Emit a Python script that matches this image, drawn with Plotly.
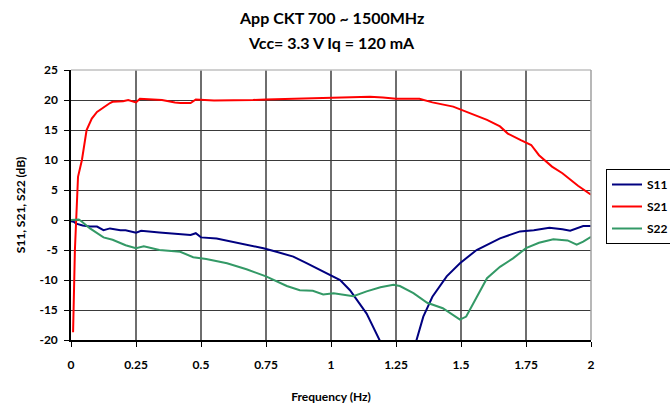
import plotly.graph_objects as go

# Frequency sweep (x) and measured S-parameters (dB)
s11_x = [0.0, 0.01, 0.02, 0.045, 0.073, 0.1, 0.125, 0.15, 0.19, 0.21, 0.25, 0.27, 0.34, 0.39,
         0.46, 0.48, 0.5, 0.56, 0.62, 0.69, 0.74, 0.79, 0.855, 0.906, 0.958, 0.996, 1.035,
         1.073, 1.11, 1.137, 1.19, 1.22, 1.255, 1.29, 1.327, 1.355, 1.39, 1.445, 1.496,
         1.56, 1.65, 1.727, 1.78, 1.84, 1.89, 1.92, 1.97, 2.0]
s11_y = [-0.2, -0.3, -0.6, -0.9, -1.1, -1.1, -1.7, -1.4, -1.7, -1.7, -2.1, -1.8, -2.1, -2.3,
         -2.5, -2.2, -2.9, -3.1, -3.6, -4.3, -4.7, -5.3, -6.1, -7.2, -8.3, -9.2, -10.0,
         -11.7, -13.9, -15.6, -20.3, -24.0, -27.0, -24.0, -20.3, -16.1, -12.8, -9.4, -7.2,
         -5.0, -3.05, -1.9, -1.7, -1.3, -1.55, -1.8, -1.0, -1.0]

s21_x = [0.008, 0.015, 0.027, 0.042, 0.06, 0.08, 0.1, 0.125, 0.15, 0.16, 0.2, 0.22, 0.25,
         0.265, 0.3, 0.35, 0.4, 0.42, 0.46, 0.48, 0.55, 0.62, 0.7, 0.75, 0.85, 0.95, 1.0,
         1.08, 1.15, 1.2, 1.25, 1.34, 1.39, 1.47, 1.5, 1.57, 1.6, 1.65, 1.68, 1.73, 1.77,
         1.8, 1.85, 1.89, 1.95, 2.0]
s21_y = [-18.7, -5.0, 7.2, 10.0, 15.0, 16.9, 18.0, 18.8, 19.5, 19.7, 19.8, 20.0, 19.6,
         20.2, 20.1, 20.0, 19.6, 19.5, 19.5, 20.1, 19.9, 19.9, 20.0, 20.1, 20.2, 20.3, 20.3,
         20.4, 20.55, 20.4, 20.2, 20.2, 19.6, 18.9, 18.4, 17.2, 16.7, 15.6, 14.4, 13.3, 12.5,
         10.8, 8.9, 7.8, 5.7, 4.2]

s22_x = [0.0, 0.01, 0.03, 0.04, 0.073, 0.125, 0.16, 0.21, 0.25, 0.28, 0.34, 0.42, 0.47,
         0.52, 0.6, 0.675, 0.75, 0.83, 0.88, 0.93, 0.958, 0.97, 1.01, 1.086, 1.137, 1.19,
         1.24, 1.265, 1.317, 1.37, 1.43, 1.47, 1.496, 1.52, 1.56, 1.6, 1.65, 1.7, 1.75,
         1.8, 1.855, 1.91, 1.945, 1.97, 2.0]
s22_y = [0.0, 0.0, 0.1, -0.2, -1.4, -2.9, -3.3, -4.2, -4.7, -4.4, -5.0, -5.3, -6.2,
         -6.5, -7.2, -8.2, -9.4, -11.0, -11.7, -11.8, -12.3, -12.4, -12.2, -12.7, -11.9,
         -11.2, -10.8, -11.0, -12.2, -13.8, -14.7, -15.8, -16.6, -16.1, -12.8, -9.7, -7.8,
         -6.4, -4.7, -3.8, -3.2, -3.4, -4.1, -3.6, -2.8]

x_ticks = [0, 0.25, 0.5, 0.75, 1, 1.25, 1.5, 1.75, 2]
x_tick_text = ["0", "0.25", "0.5", "0.75", "1", "1.25", "1.5", "1.75", "2"]
y_ticks = [25, 20, 15, 10, 5, 0, -5, -10, -15, -20]
y_tick_text = ["25", "20", "15", "10", "5", "0", "-5", "-10", "-15", "-20"]

title_lines = ["App CKT 700 ~ 1500MHz", "Vcc= 3.3 V Iq = 120 mA"]

FONT = "Lato"
BOLD = dict(family=FONT, color="black", weight="bold")

fig = go.Figure()
for name, xs, ys, color in [
    ("S11", s11_x, s11_y, "#000080"),
    ("S21", s21_x, s21_y, "#ff0000"),
    ("S22", s22_x, s22_y, "#339966"),
]:
    fig.add_trace(go.Scatter(x=xs, y=ys, name=name, legendgroup=name, mode="lines",
                             line=dict(color=color, width=2)))

fig.update_layout(
    width=670, height=408,
    margin=dict(l=71, r=79, t=70, b=68, autoexpand=False),
    paper_bgcolor="white", plot_bgcolor="white",
    font=dict(family=FONT, size=11, color="black"),
    showlegend=True,
    legend=dict(
        x=(606 - 71) / 520, xanchor="left", y=(340 - 169) / 270, yanchor="top",
        bordercolor="black", borderwidth=1, bgcolor="white",
        font=dict(size=12, **BOLD),
        itemwidth=30, tracegroupgap=3,
    ),
)

# two-line bold heading
for i, line in enumerate(title_lines):
    fig.add_annotation(text=line, xref="paper", yref="paper", x=0.5, xanchor="center",
                       y=1 + (52 - 25 * i) / 270, yanchor="middle", showarrow=False,
                       font=dict(size=16, **BOLD))

fig.update_xaxes(
    range=[0, 2], tickvals=x_ticks, ticktext=x_tick_text,
    showgrid=True, gridcolor="#6e6e6e", gridwidth=1.5,
    showline=True, linecolor="black", linewidth=1.5, mirror=False,
    ticks="outside", ticklen=5, tickcolor="black",
    tickfont=dict(size=12, **BOLD),
    ticklabelstandoff=8,
    zeroline=False,
    title=dict(text="Frequency (Hz)", font=dict(size=12, **BOLD), standoff=21),
)
fig.update_yaxes(
    range=[-20, 25], tickvals=y_ticks, ticktext=y_tick_text,
    showgrid=True, gridcolor="#3a3a3a", gridwidth=1,
    showline=True, linecolor="black", linewidth=1.5,
    ticks="outside", ticklen=5, tickcolor="black",
    tickfont=dict(size=12, **BOLD),
    ticklabelstandoff=4,
    zeroline=False,
    title=dict(text="S11, S21, S22 (dB)", font=dict(size=12, **BOLD), standoff=11),
)

# light frame on the top and right of the plotting area
fig.add_shape(type="line", xref="paper", yref="paper", x0=0, x1=1, y0=1, y1=1,
              line=dict(color="#c0c0c0", width=1.5))
fig.add_shape(type="line", xref="paper", yref="paper", x0=1, x1=1, y0=0, y1=1,
              line=dict(color="#a0a0a0", width=1.5))

fig.write_html("out.html")
